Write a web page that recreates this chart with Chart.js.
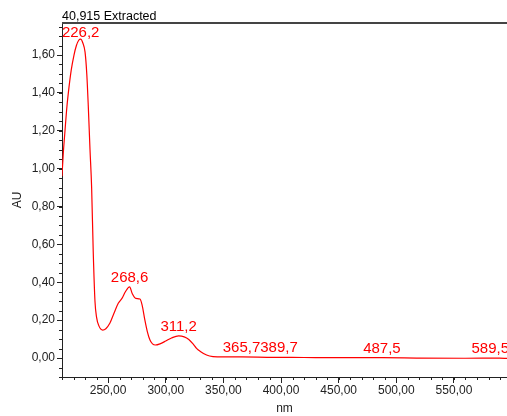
<!DOCTYPE html>
<html>
<head>
<meta charset="utf-8">
<script src="https://cdn.jsdelivr.net/npm/chart.js@4.4.0/dist/chart.umd.min.js"></script>
<style>
  html, body { margin: 0; padding: 0; background: #fff; }
  #chart { display: block; }
</style>
</head>
<body>
<canvas id="chart" width="507" height="416"></canvas>
<script>
// spectrum (nm, AU)
const wavelengths = [210, 211, 212.6, 214, 215.5, 218, 220.4, 222.5, 224.5, 226.2, 228, 230, 231.5, 232.8, 234.3, 235.7, 237.1, 238.6, 240, 242, 245.3, 248, 251.6, 255, 258.8, 262, 265, 268.6, 271, 274, 277.6, 279.5, 281.9, 284, 286.3, 288.5, 291, 295, 300, 305, 311.2, 316, 320, 324, 326.7, 330, 335.4, 341, 350, 365.7, 389.7, 420, 450, 487.5, 520, 560, 589.5, 596];
const absorbance = [0.96, 1.07, 1.2, 1.31, 1.4, 1.52, 1.6, 1.65, 1.678, 1.684, 1.665, 1.615, 1.5, 1.33, 1.1, 0.9, 0.56, 0.3, 0.215, 0.17, 0.148, 0.155, 0.185, 0.235, 0.289, 0.315, 0.35, 0.376, 0.34, 0.315, 0.312, 0.28, 0.2, 0.14, 0.095, 0.075, 0.069, 0.075, 0.09, 0.106, 0.117, 0.112, 0.098, 0.072, 0.051, 0.035, 0.016, 0.008, 0.006, 0.006, 0.004, 0.003, 0.002, 0.002, 0.0, -0.001, 0.0, -0.002];

// labelled maxima
const peakNm = [226.2, 268.6, 311.2, 365.7, 389.7, 487.5, 589.5];
const peakAu = [1.684, 0.376, 0.117, 0.006, 0.004, 0.002, 0.0];

const xTicks = [250, 300, 350, 400, 450, 500, 550];
const yTicks = [0, 0.2, 0.4, 0.6, 0.8, 1.0, 1.2, 1.4, 1.6];
const xMinorStep = 10;
const yMinorStep = 0.05;

const chartTitle = "40,915 Extracted";
const FONT = "'Liberation Sans', Arial, sans-serif";
const fmt = v => v.toFixed(2).replace(".", ",");
const fmtPeak = v => v.toFixed(1).replace(".", ",");

const decorPlugin = {
  id: "decor",
  afterDraw(chart) {
    const { ctx, chartArea: a, scales } = chart;
    const xs = scales.x, ys = scales.y;
    ctx.save();
    // top frame line
    ctx.strokeStyle = "#444";
    ctx.lineWidth = 2;
    ctx.beginPath();
    ctx.moveTo(a.left, a.top);
    ctx.lineTo(a.right, a.top);
    ctx.stroke();
    // minor ticks
    ctx.strokeStyle = "#222";
    ctx.lineWidth = 1;
    ctx.beginPath();
    for (let v = Math.ceil(xs.min / xMinorStep) * xMinorStep; v <= xs.max; v += xMinorStep) {
      const px = Math.round(xs.getPixelForValue(v)) + 0.5;
      ctx.moveTo(px, a.bottom);
      ctx.lineTo(px, a.bottom + 3);
    }
    for (let v = Math.ceil(ys.min / yMinorStep) * yMinorStep; v <= ys.max; v += yMinorStep) {
      const py = Math.round(ys.getPixelForValue(v)) + 0.5;
      ctx.moveTo(a.left, py);
      ctx.lineTo(a.left - 3, py);
    }
    ctx.stroke();
    // title
    ctx.fillStyle = "#000";
    ctx.font = "12.5px " + FONT;
    ctx.textAlign = "left";
    ctx.textBaseline = "alphabetic";
    ctx.fillText(chartTitle, a.left, 20);
    // peak labels
    ctx.fillStyle = "#ff0000";
    ctx.font = "15px " + FONT;
    let prevRight = -Infinity;
    peakNm.forEach((nm, i) => {
      const text = fmtPeak(nm);
      const w = ctx.measureText(text).width;
      const px = xs.getPixelForValue(nm);
      const py = ys.getPixelForValue(peakAu[i]);
      let left = px - w / 2;
      if (left < prevRight) left = prevRight;
      if (left + w > a.right + 2) left = a.right + 2 - w;
      let base = py - 5;
      if (base < a.top + 14) base = a.top + 14;
      ctx.fillText(text, left, base);
      prevRight = left + w;
    });
    ctx.restore();
  }
};

new Chart(document.getElementById("chart"), {
  type: "line",
  data: {
    datasets: [{
      data: wavelengths.map((x, i) => ({ x, y: absorbance[i] })),
      borderColor: "#ff0000",
      borderWidth: 1.2,
      pointRadius: 0,
      cubicInterpolationMode: "monotone",
      fill: false
    }]
  },
  options: {
    responsive: false,
    devicePixelRatio: 1,
    animation: false,
    layout: { padding: { top: 23, left: 0, right: 0, bottom: 0 } },
    plugins: { legend: { display: false }, tooltip: { enabled: false }, title: { display: false } },
    scales: {
      x: {
        type: "linear",
        min: 210,
        max: 596,
        afterBuildTicks: s => { s.ticks = xTicks.map(value => ({ value })); },
        afterFit: s => { s.height = 39; },
        ticks: { callback: v => fmt(v), color: "#222", font: { family: FONT, size: 12 }, padding: 0, maxRotation: 0, autoSkip: false },
        grid: { drawOnChartArea: false, tickLength: 6, tickColor: "#222" },
        border: { color: "#222", width: 1 },
        title: { display: true, text: "nm", color: "#222", font: { family: FONT, size: 12 }, padding: { top: 0, bottom: 0 } }
      },
      y: {
        type: "linear",
        min: -0.1,
        max: 1.769,
        afterBuildTicks: s => { s.ticks = yTicks.map(value => ({ value })); },
        afterFit: s => { s.width = 62; },
        ticks: { callback: v => fmt(v), color: "#222", font: { family: FONT, size: 12 }, padding: 2, autoSkip: false },
        grid: { drawOnChartArea: false, tickLength: 5, tickColor: "#222" },
        border: { color: "#222", width: 1 },
        title: { display: true, text: "AU", color: "#222", font: { family: FONT, size: 12 }, padding: { top: 10, bottom: 0 } }
      }
    }
  },
  plugins: [decorPlugin]
});
</script>
</body>
</html>
